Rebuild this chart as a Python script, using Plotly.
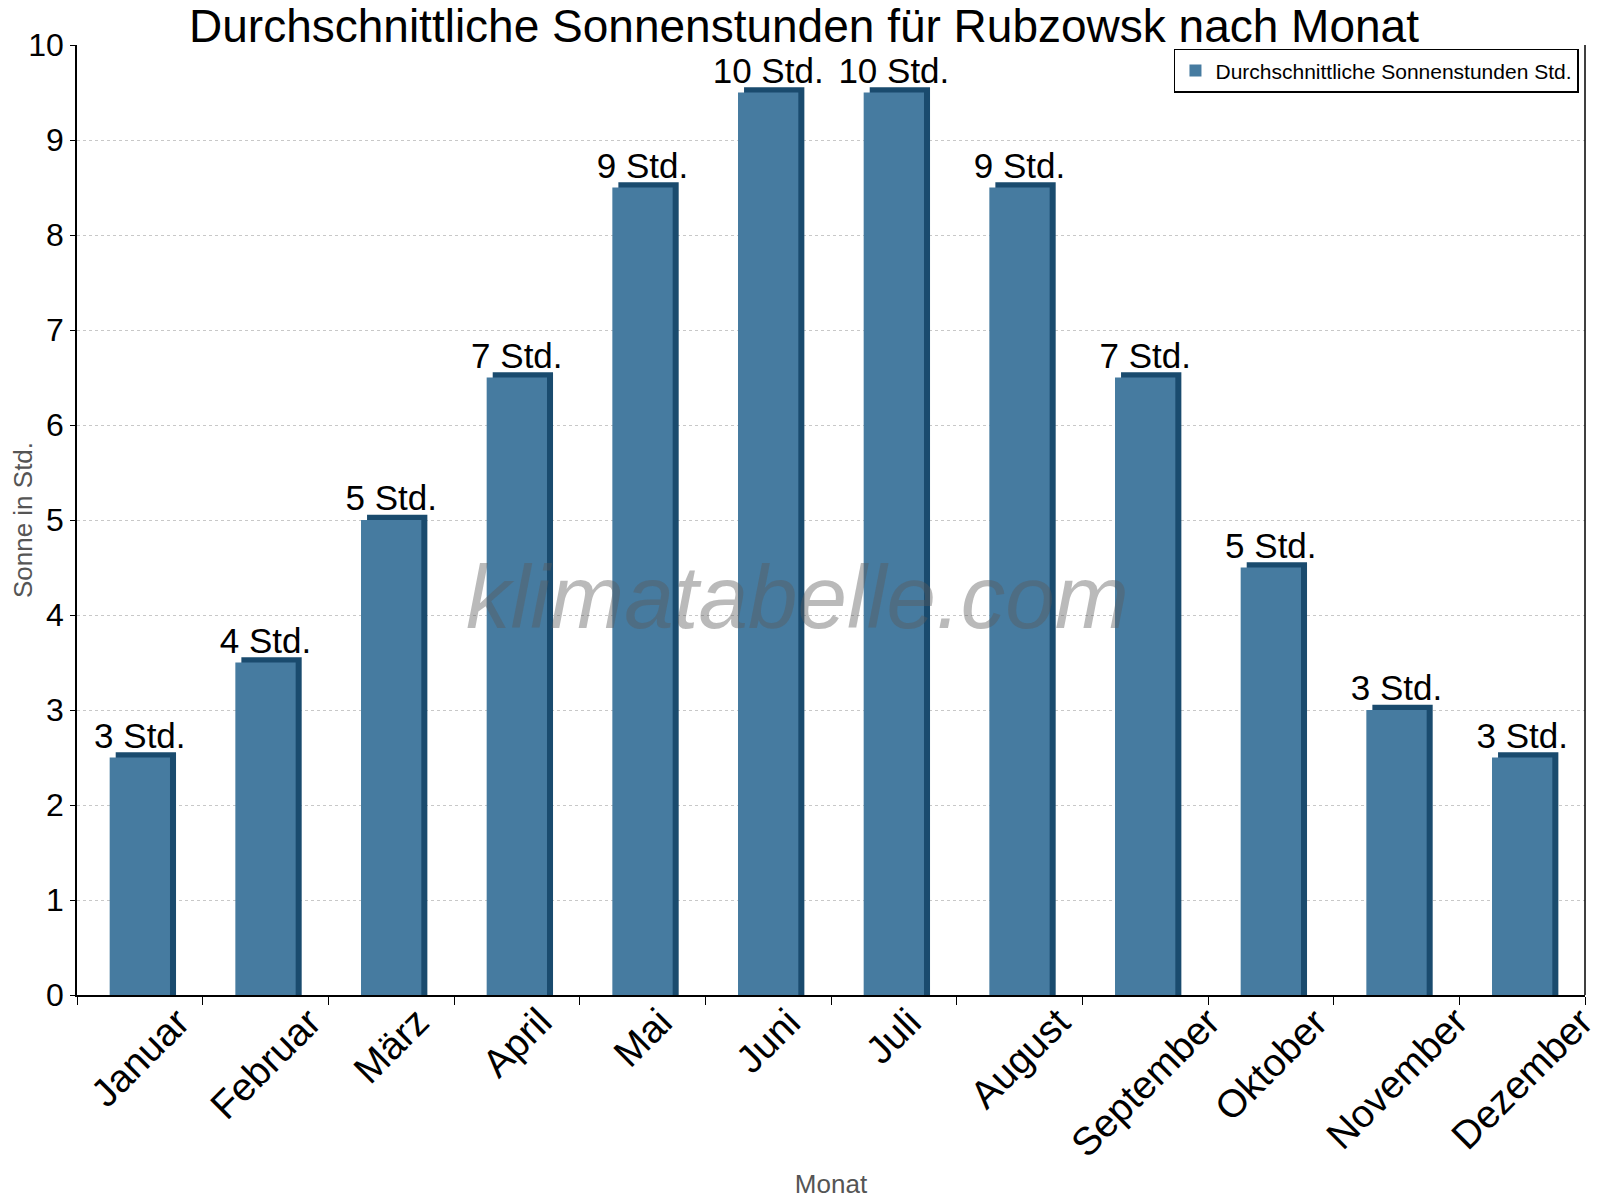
import plotly.graph_objects as go

# --- data ---
months = ["Januar", "Februar", "März", "April", "Mai", "Juni",
          "Juli", "August", "September", "Oktober", "November", "Dezember"]
sun_hours = [2.5, 3.5, 5, 6.5, 8.5, 9.5, 9.5, 8.5, 6.5, 4.5, 3, 2.5]
bar_labels = ["3 Std.", "4 Std.", "5 Std.", "7 Std.", "9 Std.", "10 Std.",
              "10 Std.", "9 Std.", "7 Std.", "5 Std.", "3 Std.", "3 Std."]
y_ticks = list(range(0, 11))

FRONT = "#467ba0"
SIDE = "#1a4b6e"
BAR_W = 0.48
DEPTH_X = 0.048   # fake 3d side, in category units
DEPTH_Y = 0.055   # fake 3d top, in data units
FONT = "Liberation Sans, Arial"

fig = go.Figure()

# darker "shadow" bar behind, shifted right and a bit taller -> 3d look
fig.add_trace(go.Bar(
    x=months,
    y=[v + DEPTH_Y for v in sun_hours],
    width=BAR_W,
    offset=-BAR_W / 2 + DEPTH_X,
    marker=dict(color=SIDE, line=dict(width=0)),
    showlegend=False,
    hoverinfo="skip",
))

# front face
fig.add_trace(go.Bar(
    x=months,
    y=sun_hours,
    width=BAR_W,
    offset=-BAR_W / 2,
    marker=dict(color=FRONT, line=dict(width=0)),
    text=bar_labels,
    textposition="outside",
    constraintext="none",
    textfont=dict(size=35, color="black", family=FONT),
    cliponaxis=False,
    name="Durchschnittliche Sonnenstunden Std.",
))

# rotated month labels centred under each category (like the original)
month_annotations = [
    dict(text=m, x=m, xref="x", y=0, yref="paper", yshift=-2,
         xanchor="center", yanchor="top", textangle=-45, showarrow=False,
         font=dict(size=39, color="black", family=FONT))
    for m in months
]

fig.update_layout(
    width=1592,
    height=1192,
    barmode="overlay",
    plot_bgcolor="white",
    paper_bgcolor="white",
    font=dict(family=FONT, color="black"),
    margin=dict(l=69, r=15, t=37, b=205, autoexpand=False),
    title=dict(
        text="Durchschnittliche Sonnenstunden für Rubzowsk nach Monat",
        font=dict(size=46, color="black"),
        x=0.5, xanchor="center", y=0.985, yanchor="middle",
    ),
    legend=dict(
        x=0.996, y=0.996, xanchor="right", yanchor="top",
        bordercolor="black", borderwidth=1.5, bgcolor="white",
        font=dict(size=21, color="black"),
    ),
    xaxis=dict(
        title=dict(text="Monat", font=dict(size=26, color="#555"), standoff=179),
        range=[-0.5, len(months) - 0.5],
        showticklabels=False,
        showline=True, linecolor="black", linewidth=1.5,
        ticks="outside", ticklen=8, tickcolor="black",
        tickson="boundaries",
        showgrid=False,
        automargin=False,
    ),
    yaxis=dict(
        title=dict(text="Sonne in Std.", font=dict(size=26, color="#555"), standoff=13),
        range=[0, 10],
        tickvals=y_ticks,
        tickfont=dict(size=32, color="black"),
        showline=True, linecolor="black", linewidth=1.5,
        ticks="outside", ticklen=5, tickcolor="black",
        showgrid=True, gridcolor="#c8c8c8", griddash="dot", gridwidth=1,
        zeroline=False,
        automargin=False,
    ),
    annotations=[dict(
        text="<i>klimatabelle.com</i>",
        xref="paper", yref="paper", x=0.478, y=0.419,
        showarrow=False,
        font=dict(size=89, color="rgba(90,90,90,0.42)", family=FONT),
    )] + month_annotations,
)

# right border of plot area like the reference
fig.add_shape(type="line", xref="paper", yref="paper", x0=1, x1=1, y0=0, y1=1,
              line=dict(color="black", width=1.5))

fig.write_html("out.html")
